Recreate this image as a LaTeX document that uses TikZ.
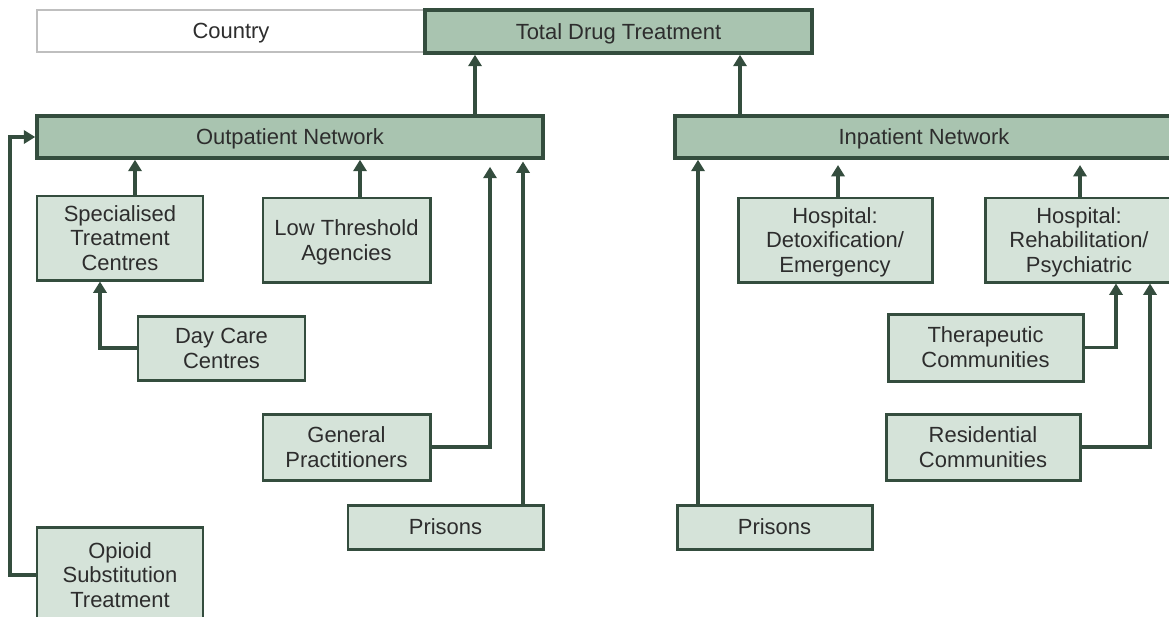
\documentclass[tikz,border=0pt]{standalone}
\usepackage{fontspec}
\setmainfont{Liberation Sans}
\usetikzlibrary{arrows.meta}
\definecolor{netgreen}{RGB}{169,196,176}
\definecolor{subgreen}{RGB}{213,227,217}
\definecolor{edgegreen}{RGB}{52,77,62}
\definecolor{textgray}{RGB}{45,45,45}

\begin{document}
\begin{tikzpicture}[x=0.02cm,y=-0.02cm,
    wh/.style 2 args={minimum width=#1*0.02cm, minimum height=#2*0.02cm},
    base/.style={rectangle, inner sep=0pt, align=center, text=textgray,
        text depth=0pt, font=\fontsize{12.5}{14.2}\selectfont},
    netbox/.style={base, draw=edgegreen, line width=2pt, fill=netgreen},
    subbox/.style={base, draw=edgegreen, line width=1.7pt, fill=subgreen},
    countrybox/.style={base, draw=black!25, line width=0.6pt, fill=white},
    arr/.style={draw=edgegreen, line width=2.2pt, -{Triangle[length=6.5pt,width=7.5pt]}}]
\useasboundingbox (0,0) rectangle (1169,616);

% top row
\node[countrybox, wh={388}{42}] (country) at (231,31) {Country};
\node[netbox, wh={387}{43}] (total) at (618.5,31.5) {Total Drug Treatment};

% networks
\node[netbox, wh={506}{42}] (outnet) at (290,137) {Outpatient Network};
\node[netbox, wh={498}{42}] (innet) at (924,137) {Inpatient Network};

% outpatient services
\node[subbox, wh={166}{84}] (stc) at (120,238) {Specialised\\Treatment\\Centres};
\node[subbox, wh={167}{84}] (lta) at (346.5,240) {Low Threshold\\Agencies};
\node[subbox, wh={167}{64}] (dcc) at (221.5,348) {Day Care\\Centres};
\node[subbox, wh={167}{66}] (gp) at (346.5,447) {General\\Practitioners};
\node[subbox, wh={195}{44}] (prisout) at (445.5,527) {Prisons};
\node[subbox, wh={166}{96}] (ost) at (120,575) {Opioid\\Substitution\\Treatment};

% inpatient services
\node[subbox, wh={194}{84}] (detox) at (835,240) {Hospital:\\Detoxification/\\Emergency};
\node[subbox, wh={188}{84}] (rehab) at (1079,240) {Hospital:\\Rehabilitation/\\Psychiatric};
\node[subbox, wh={195}{67}] (tc) at (985.5,347.5) {Therapeutic\\Communities};
\node[subbox, wh={194}{66}] (rc) at (983,447) {Residential\\Communities};
\node[subbox, wh={195}{44}] (prisin) at (774.5,527) {Prisons};

% networks to total
\draw[arr] (outnet.north -| 475,0) -- (total.south -| 475,0);
\draw[arr] (innet.north -| 740,0) -- (total.south -| 740,0);

% outpatient links
\draw[arr] (stc.north -| 135,0) -- (outnet.south -| 135,0);
\draw[arr] (lta.north -| 360,0) -- (outnet.south -| 360,0);
\draw[arr] (dcc.west) -| (stc.south -| 100,0);
\draw[arr, shorten >=4pt] (gp.east) -| (outnet.south -| 490,0);
\draw[arr, shorten >=1pt] (prisout.north -| 523,0) -- (outnet.south -| 523,0);
\draw[arr] (ost.west) -- (10,575) |- (outnet.west);

% inpatient links
\draw[arr] (prisin.north -| 698,0) -- (innet.south -| 698,0);
\draw[arr, shorten >=3pt] (detox.north -| 838,0) -- (innet.south -| 838,0);
\draw[arr, shorten >=3pt] (rehab.north -| 1080,0) -- (innet.south -| 1080,0);
\draw[arr] (tc.east) -| (rehab.south -| 1116,0);
\draw[arr] (rc.east) -| (rehab.south -| 1150,0);
\end{tikzpicture}
\end{document}
